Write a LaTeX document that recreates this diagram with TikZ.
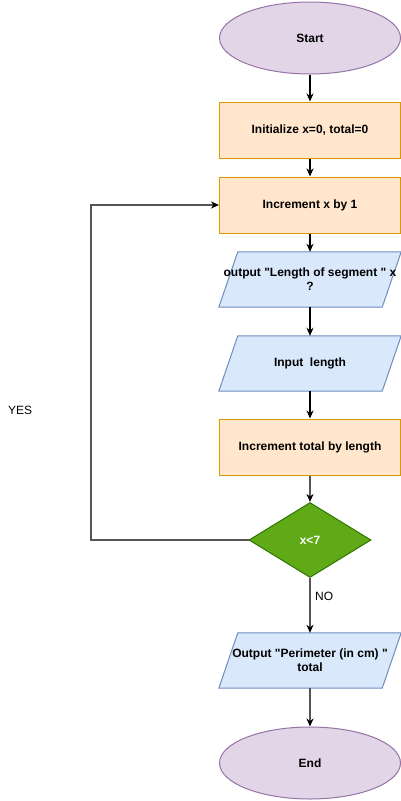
\documentclass[tikz,border=0pt]{standalone}
\usepackage{fontspec}
\setmainfont{Liberation Sans}
\usetikzlibrary{shapes.geometric,arrows.meta,backgrounds}
\definecolor{elfill}{HTML}{E1D5E7}
\definecolor{eldraw}{HTML}{9673A6}
\definecolor{rcfill}{HTML}{FFE6CC}
\definecolor{rcdraw}{HTML}{D79B00}
\definecolor{pgfillc}{HTML}{DAE8FC}
\definecolor{pgdraw}{HTML}{6C8EBF}
\definecolor{dmfill}{HTML}{60A917}
\definecolor{dmdraw}{HTML}{2D7600}
\definecolor{lngray}{HTML}{555555}
\newcommand{\dq}{\textquotedbl}
\tikzset{
  x=1pt, y=-1pt,
  every node/.style={font=\fontsize{12}{14}\selectfont\bfseries, inner sep=0pt, align=center},
  term/.style={ellipse, draw=eldraw, fill=elfill, line width=1pt, minimum width=181pt, minimum height=72pt},
  proc/.style={rectangle, draw=rcdraw, fill=rcfill, line width=1pt, minimum width=181pt, minimum height=56pt},
  iobox/.style={rectangle, minimum width=182pt, minimum height=55pt},
  pgshape/.style={draw=pgdraw, fill=pgfillc, line width=1pt},
  dec/.style={diamond, draw=dmdraw, fill=dmfill, line width=1pt, minimum width=122pt, minimum height=75pt, text=white},
  lbl/.style={font=\fontsize{12}{14}\selectfont},
  flow/.style={line width=1.4pt, black, -{Stealth[length=8pt,width=7pt,inset=2.5pt]}},
  flowg/.style={line width=1.2pt, lngray, -{Stealth[length=8pt,width=7pt,inset=2.5pt,black]}}
}
\begin{document}
\begin{tikzpicture}
\useasboundingbox (0,0) rectangle (401,801);
\node[term] (start) at (310,38) {Start};
\node[proc] (init) at (310,130) {Initialize x=0, total=0};
\node[proc] (incx) at (310,205) {Increment x by 1};
\node[iobox] (outseg) at (310,279.5) {output \dq Length of segment \dq\ x\\?};
\node[iobox] (inlen) at (310,363.5) {Input\ \ length};
\node[proc] (inctot) at (310,447) {Increment total by length};
\node[dec] (cond) at (310,540) {x<7};
\node[iobox] (outper) at (310,660.5) {Output \dq Perimeter (in cm) \dq\\total};
\node[term] (stop) at (310,763) {End};
\node[lbl, anchor=west] (yes) at (8,410) {YES};
\node[lbl, anchor=west] (no) at (315,596) {NO};
\coordinate (loop) at (91,540);
\begin{scope}[on background layer]
  \foreach \n in {outseg,inlen,outper}{
    \draw[pgshape] ([xshift=19pt]\n.north west) -- (\n.north east) -- ([xshift=-19pt]\n.south east) -- (\n.south west) -- cycle;
  }
\end{scope}
\draw[flow] (start) -- (init);
\draw[flow] (init) -- (incx);
\draw[flow] (incx) -- (outseg);
\draw[flow] (outseg) -- (inlen);
\draw[flow] (inlen) -- (inctot);
\draw[flowg] (inctot) -- (cond);
\draw[flowg] (cond) -- (outper);
\draw[flowg] (outper) -- (stop);
\draw[flowg] (cond.west) -- (loop) |- (incx.west);
\end{tikzpicture}
\end{document}
